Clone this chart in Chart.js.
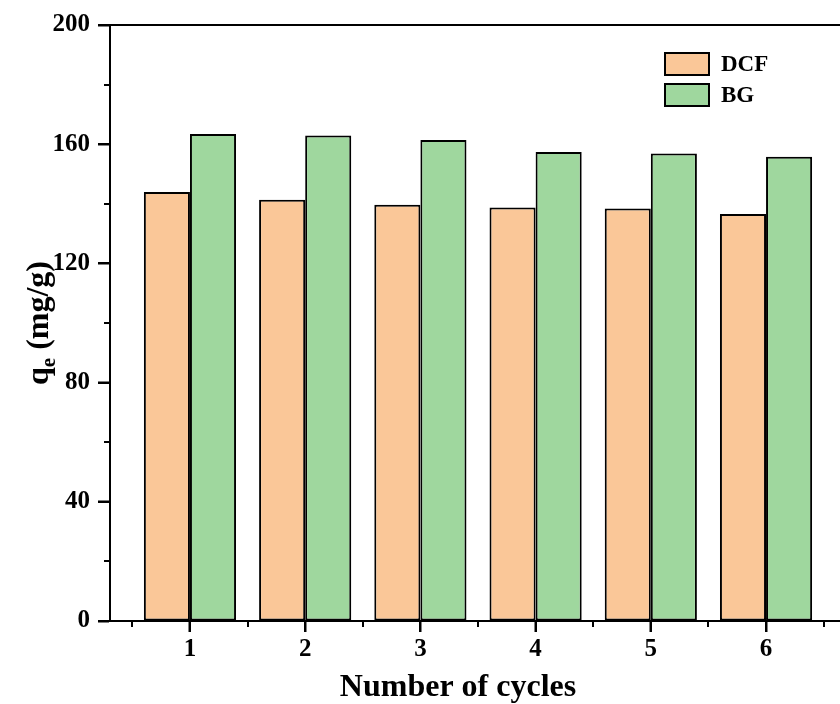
<!DOCTYPE html>
<html>
<head>
<meta charset="utf-8">
<script src="https://cdn.jsdelivr.net/npm/chart.js@4"></script>
<style>
  html, body { margin: 0; padding: 0; background: #fff; overflow: hidden; }
  #wrap { width: 840px; height: 704px; }
</style>
</head>
<body>
<div id="wrap"><canvas id="chart" width="840" height="704"></canvas></div>
<script>
// data
const cycles = [1, 2, 3, 4, 5, 6];
const dcfValues = [144.0, 141.4, 139.7, 138.8, 138.4, 136.6];
const bgValues = [163.4, 162.9, 161.4, 157.4, 156.9, 155.8];
const yTicks = [0, 40, 80, 120, 160, 200];
const yMinorTicks = [20, 60, 100, 140, 180];
const xMinorTicks = [0.5, 1.5, 2.5, 3.5, 4.5, 5.5, 6.5];

const FONT = '"Liberation Serif", "Times New Roman", serif';

// ticks, top frame line, legend and axis titles (title needs a subscript)
const decorPlugin = {
  id: 'decor',
  afterDraw(chart) {
    const { ctx, chartArea, scales } = chart;
    const x = scales.x, y = scales.y;
    ctx.save();
    ctx.strokeStyle = '#000';
    ctx.lineWidth = 2;

    // top frame
    ctx.beginPath();
    ctx.moveTo(chartArea.left - 1, chartArea.top);
    ctx.lineTo(chartArea.right, chartArea.top);
    ctx.stroke();

    // major + minor ticks
    ctx.beginPath();
    cycles.forEach(v => {
      const px = Math.round(x.getPixelForValue(v));
      ctx.moveTo(px, chartArea.bottom);
      ctx.lineTo(px, chartArea.bottom + 11);
    });
    yTicks.forEach(v => {
      const py = Math.round(y.getPixelForValue(v));
      ctx.moveTo(chartArea.left - 12, py);
      ctx.lineTo(chartArea.left, py);
    });
    xMinorTicks.forEach(v => {
      const px = Math.round(x.getPixelForValue(v));
      ctx.moveTo(px, chartArea.bottom);
      ctx.lineTo(px, chartArea.bottom + 6);
    });
    yMinorTicks.forEach(v => {
      const py = Math.round(y.getPixelForValue(v));
      ctx.moveTo(chartArea.left - 6, py);
      ctx.lineTo(chartArea.left, py);
    });
    ctx.stroke();

    // legend
    chart.data.datasets.forEach((ds, i) => {
      const bx = 665, by = 53 + i * 31;
      ctx.fillStyle = ds.backgroundColor;
      ctx.fillRect(bx, by, 44, 22);
      ctx.lineWidth = 2;
      ctx.strokeRect(bx, by, 44, 22);
      ctx.fillStyle = '#000';
      ctx.font = 'bold 23px ' + FONT;
      ctx.textBaseline = 'middle';
      ctx.textAlign = 'left';
      ctx.fillText(ds.label, 721, by + 12);
    });

    // x title
    ctx.font = 'bold 32px ' + FONT;
    ctx.textAlign = 'center';
    ctx.textBaseline = 'alphabetic';
    ctx.fillText('Number of cycles', 458, 696);

    // y title: q_e (mg/g)
    ctx.translate(38, (chartArea.top + chartArea.bottom) / 2);
    ctx.rotate(-Math.PI / 2);
    const big = 'bold 32px ' + FONT, small = 'bold 21px ' + FONT;
    ctx.font = big;
    const wq = ctx.measureText('q').width;
    const wRest = ctx.measureText(' (mg/g)').width;
    ctx.font = small;
    const we = ctx.measureText('e').width;
    let sx = -(wq + we + wRest) / 2;
    ctx.textAlign = 'left';
    ctx.font = big;
    ctx.fillText('q', sx, 10);
    ctx.font = small;
    ctx.fillText('e', sx + wq, 17);
    ctx.font = big;
    ctx.fillText(' (mg/g)', sx + wq + we, 10);
    ctx.restore();
  }
};

new Chart(document.getElementById('chart'), {
  type: 'bar',
  data: {
    datasets: [
      {
        label: 'DCF',
        data: cycles.map((c, i) => ({ x: c, y: dcfValues[i] })),
        backgroundColor: 'rgb(250, 199, 152)',
        borderColor: '#000',
        borderWidth: 2,
        borderSkipped: false
      },
      {
        label: 'BG',
        data: cycles.map((c, i) => ({ x: c, y: bgValues[i] })),
        backgroundColor: 'rgb(159, 215, 158)',
        borderColor: '#000',
        borderWidth: 2,
        borderSkipped: false
      }
    ]
  },
  options: {
    responsive: false,
    devicePixelRatio: 1,
    animation: false,
    categoryPercentage: 0.8,
    barPercentage: 1.0,
    layout: { padding: { top: 25, right: 0, left: 0, bottom: 0 } },
    plugins: {
      legend: { display: false },
      tooltip: { enabled: false }
    },
    scales: {
      x: {
        type: 'linear',
        offset: false,
        min: 0.306,
        max: 6.642,
        afterBuildTicks: s => { s.ticks = cycles.map(v => ({ value: v })); },
        afterFit: s => { s.height = 83; },
        grid: { offset: false, drawOnChartArea: false, drawTicks: true, tickLength: 11, tickColor: '#000', tickWidth: 2 },
        border: { color: '#000', width: 2 },
        ticks: {
          color: '#000',
          padding: 3,
          font: { family: FONT, size: 25, weight: 'bold' },
          callback: v => String(v)
        }
      },
      y: {
        min: 0,
        max: 200,
        afterBuildTicks: s => { s.ticks = yTicks.map(v => ({ value: v })); },
        afterFit: s => { s.width = 110; },
        grid: { drawOnChartArea: false, drawTicks: true, tickLength: 12, tickColor: '#000', tickWidth: 2 },
        border: { color: '#000', width: 2 },
        ticks: {
          color: '#000',
          padding: 8,
          font: { family: FONT, size: 25, weight: 'bold' },
          callback: v => String(v)
        }
      }
    }
  },
  plugins: [decorPlugin]
});
</script>
</body>
</html>
